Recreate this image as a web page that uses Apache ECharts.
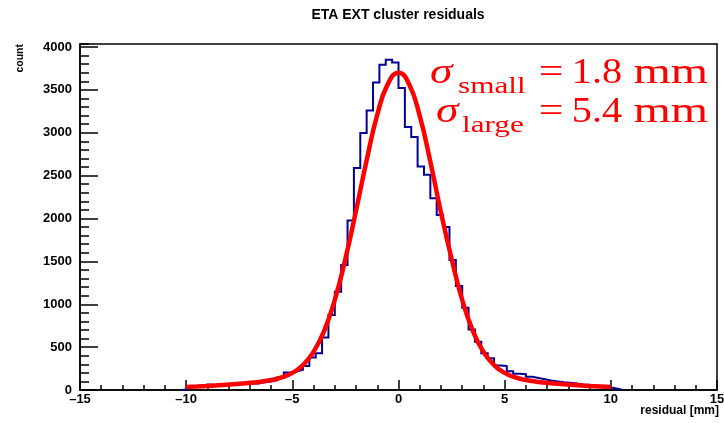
<!DOCTYPE html>
<html><head><meta charset="utf-8">
<script src="https://cdn.jsdelivr.net/npm/echarts@6/dist/echarts.min.js"></script>
<style>html,body{margin:0;padding:0;background:#fff}#c{width:724px;height:423px}</style>
</head><body><div id="c"></div>
<script>
// ---- data ----
const histMin = -15, histMax = 15, nBins = 100;
const counts = [
  0,0,0,0,0,0,0,0,0,0, 0,0,0,0,0,0,
  10,35,50,65,60,55,60,65,70,75,80,75,90,100,115,150,205,215,237,280,
  380,428,612,875,1147,1459,1976,2588,2996,3260,3587,3793,3851,3820,
  3521,3066,2949,2606,2509,2237,2042,1900,1517,1214,960,705,564,430,370,
  285,280,220,190,185,155,140,125,110,100,90,85,75,65,60,50,45,35,20,5,
  0,0,0,0,0,0,0,0,0,0,0,0,0,0,0
];
const fitX = [-10,-9.5,-9,-8.5,-8,-7.5,-7,-6.5,-6,-5.5,-5,-4.5,-4,-3.5,-3,-2.5,-2,-1.5,-1,-0.5,
  0,0.5,1,1.5,2,2.5,3,3.5,4,4.5,5,5.5,6,6.5,7,7.5,8,8.5,9,9.5,10];
const fitY = [34,40,47,55,63,72,84,97,116,146,200,290,445,690,1050,1530,2090,2680,3210,3570,
  3700,3566,3196,2663,2071,1530,1050,690,445,290,200,146,116,97,84,72,63,55,47,40,34];
const yMajorTicks = [0,500,1000,1500,2000,2500,3000,3500,4000];
const titleText = 'ETA EXT cluster residuals';
const xName = 'residual [mm]';
const yName = 'count';

// ---- build ----
const bw = (histMax - histMin) / nBins;
let first = counts.findIndex(c => c > 0);
let last = counts.length - 1 - counts.slice().reverse().findIndex(c => c > 0);
const histData = [[histMin + first * bw, 0]];
for (let i = first; i <= last; i++) {
  const lo = histMin + i * bw, hi = lo + bw;
  histData.push([lo, counts[i]], [hi, counts[i]]);
}
histData.push([histMin + (last + 1) * bw, 0]);
const fitData = fitX.map((x, i) => [x, fitY[i]]);

const SANS = 'Liberation Sans, Arial, sans-serif';
const SERIF = 'Liberation Serif, Times New Roman, serif';
const blk = '#000';
const tickStyle = {color: blk, width: 1.5};

const chart = echarts.init(document.getElementById('c'), null, {renderer: 'canvas', width: 724, height: 423});
function t(text, x, y, size, opts) {
  opts = opts || {};
  return {type: 'text', x: x, y: y, rotation: opts.rot || 0, scaleX: opts.sx || 1, z: 10,
    style: {text: text, fill: opts.fill || blk, align: opts.align || 'left', verticalAlign: 'middle',
      font: (opts.style || 'normal') + ' ' + (opts.weight || 'normal') + ' ' + size + 'px ' + (opts.family || SANS)}};
}
const red = '#ff0000';
chart.setOption({
  animation: false,
  backgroundColor: '#fff',
  grid: {left: 80, right: 7, top: 44, bottom: 33, show: true, borderColor: blk, borderWidth: 1.5,
    outerBoundsMode: 'none', containLabel: false},
  xAxis: {type: 'value', min: -15, max: 15, interval: 5,
    axisLine: {onZero: false, lineStyle: tickStyle}, splitLine: {show: false},
    axisTick: {inside: true, length: 10, lineStyle: tickStyle},
    minorTick: {show: true, splitNumber: 5, length: 5, lineStyle: tickStyle},
    axisLabel: {margin: 3, color: blk, fontFamily: SANS, fontWeight: 'bold', fontSize: 13,
      formatter: v => String(v).replace('-', '\u2013')}},
  yAxis: [
    {type: 'value', min: 0, max: 4035, interval: 100, position: 'left',
      axisLine: {onZero: false, lineStyle: tickStyle}, splitLine: {show: false},
      axisTick: {inside: true, length: 9, lineStyle: tickStyle},
      axisLabel: {margin: 8, color: blk, fontFamily: SANS, fontWeight: 'bold', fontSize: 13,
        formatter: v => (yMajorTicks.indexOf(v) >= 0 ? String(v) : '')}},
    {type: 'value', min: 0, max: 4035, position: 'left', offset: 0,
      axisLine: {show: false, onZero: false}, splitLine: {show: false}, axisLabel: {show: false},
      axisTick: {show: true, inside: true, length: 18, lineStyle: tickStyle, customValues: yMajorTicks}}
  ],
  series: [
    {type: 'line', data: histData, yAxisIndex: 0, symbol: 'none', z: 2,
      lineStyle: {color: '#000099', width: 2, join: 'miter', cap: 'butt'}},
    {type: 'line', data: fitData, yAxisIndex: 0, symbol: 'none', smooth: true, z: 3,
      lineStyle: {color: red, width: 4.5}}
  ],
  graphic: [
    t(titleText, 398, 15, 14, {align: 'center', weight: 'bold'}),
    t(yName, 20, 44, 10.5, {align: 'right', weight: 'bold', rot: Math.PI / 2}),
    t(xName, 719, 411, 12, {align: 'right', weight: 'bold'}),
    t('\u03c3', 430, 74, 35, {family: SERIF, style: 'italic', fill: red, sx: 1.3}),
    t('small', 458, 87, 24, {family: SERIF, fill: red, sx: 1.3}),
    t('=', 551, 74, 35, {family: SERIF, fill: red, align: 'center', sx: 1.25}),
    t('1.8', 597, 74, 35, {family: SERIF, fill: red, align: 'center', sx: 1.15}),
    t('mm', 708, 74, 35, {family: SERIF, fill: red, align: 'right', sx: 1.37}),
    t('\u03c3', 436, 113, 35, {family: SERIF, style: 'italic', fill: red, sx: 1.3}),
    t('large', 462, 126, 24, {family: SERIF, fill: red, sx: 1.3}),
    t('=', 551, 113, 35, {family: SERIF, fill: red, align: 'center', sx: 1.25}),
    t('5.4', 597, 113, 35, {family: SERIF, fill: red, align: 'center', sx: 1.15}),
    t('mm', 708, 113, 35, {family: SERIF, fill: red, align: 'right', sx: 1.37})
  ]
});
</script></body></html>
